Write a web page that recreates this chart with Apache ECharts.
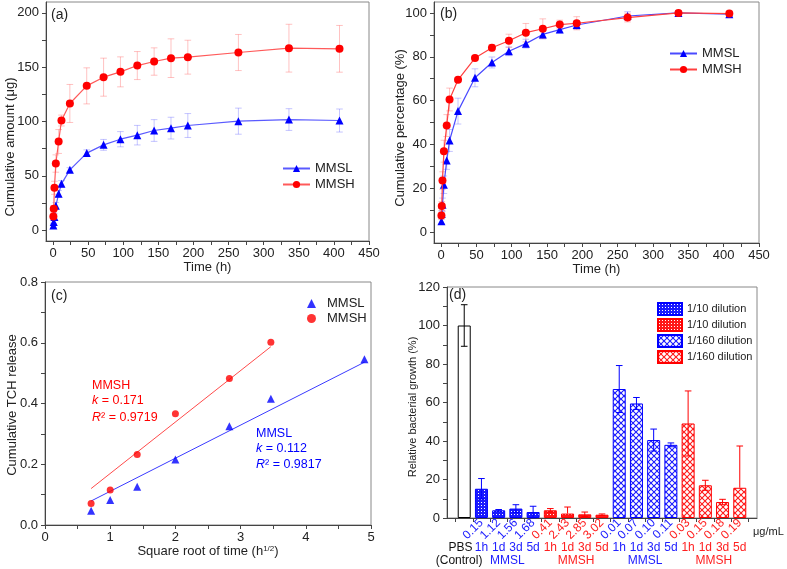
<!DOCTYPE html>
<html><head><meta charset="utf-8">
<script src="https://cdn.jsdelivr.net/npm/echarts@6.0.0/dist/echarts.min.js"></script>
<style>
html,body{margin:0;padding:0;background:#fff;width:787px;height:569px;overflow:hidden}
.c{position:absolute;left:0;top:0;width:787px;height:569px}
</style></head>
<body>
<div id="pa" class="c"></div><div id="pb" class="c"></div><div id="pc" class="c"></div><div id="pd" class="c"></div>
<script>
// ---------------- data ----------------
const times = [0.5, 1, 2, 4, 8, 12, 24, 48, 72, 96, 120, 144, 168, 192, 264, 336, 408];
const amountL = [4.3, 7.4, 12, 22.4, 33.4, 42.6, 55.5, 70.9, 78.5, 83.7, 87.4, 91.7, 93.9, 96.3, 100.3, 101.8, 100.9];
const amountLErr = [2, 2, 3, 3, 3, 3, 2, 3, 5, 7, 9, 10, 10, 11, 12, 10, 10.6];
const amountH = [12.6, 19.6, 39, 61.3, 81.6, 100.9, 116.6, 132.8, 140.8, 145.7, 151.5, 155.2, 158.3, 159.2, 163.5, 167.5, 166.9];
const amountHErr = [3, 3, 6, 8, 11, 5, 17.5, 16.6, 17.5, 13.8, 12.9, 12.6, 17.8, 15.6, 16.6, 22, 21.5];

const percentL = [4.9, 8.2, 12.5, 21.6, 32.6, 41.8, 55.2, 70.4, 77.4, 82.5, 86.0, 90.2, 92.4, 94.5, 98.6, 100, 99.4];
const percentLErr = [1, 1.5, 3, 4, 4, 5, 5.9, 4.1, 2.5, 2, 2, 2, 1.5, 2, 2, 1, 1];
const percentH = [7.5, 11.9, 23.5, 36.9, 48.6, 60.5, 69.5, 79.4, 84.1, 87.3, 91, 92.8, 94.7, 95.3, 97.9, 100, 99.7];
const percentHErr = [1.5, 2, 4, 5, 5, 5.2, 1, 1, 1.5, 3, 4.2, 4.5, 2, 3, 2, 1, 1];

const sqrtTimeL = [0.707, 1, 1.414, 2, 2.828, 3.464, 4.899];
const releaseL = [0.047, 0.082, 0.126, 0.216, 0.325, 0.416, 0.546];
const sqrtTimeH = [0.707, 1, 1.414, 2, 2.828, 3.464];
const releaseH = [0.071, 0.115, 0.232, 0.366, 0.482, 0.602];
const fitLX = [0.707, 4.9], fitLY = [0.079, 0.536];
const fitHX = [0.707, 3.464], fitHY = [0.12, 0.587];

const ctrlPos = [1], ctrlVal = [100], ctrlErr = [10.8];
const l10Pos = [2, 3, 4, 5], l10Val = [15.2, 4.0, 4.9, 3.1], l10Err = [5.3, 0.4, 2, 3];
const h10Pos = [6, 7, 8, 9], h10Val = [4.0, 2.3, 1.9, 1.7], h10Err = [0.9, 3.4, 1.2, 0.4];
const l160Pos = [10, 11, 12, 13], l160Val = [67, 59.5, 40.5, 38], l160Err = [12.2, 3.1, 5.7, 1];
const h160Pos = [14, 15, 16, 17], h160Val = [49.1, 17, 8.3, 15.7], h160Err = [16.9, 2.6, 1.4, 21.7];
const concLabels = ['0.15','1.12','1.56','1.68','0.41','2.43','2.85','3.02','0.01','0.07','0.10','0.11','0.03','0.15','0.18','0.19'];
const ctrlLabel = 'PBS', ctrlLabelPos = [0.78];
const timeLabels = ['1h','1d','3d','5d','1h','1d','3d','5d','1h','1d','3d','5d','1h','1d','3d','5d'];
const groupPos = [0.7, 3.5, 7.5, 11.5, 15.5];
const groupLabels = ['(Control)','MMSL','MMSH','MMSL','MMSH'];

// ticks
const xTicksAB = [0,25,50,75,100,125,150,175,200,225,250,275,300,325,350,375,400,425,450];
const xLabelsAB = [0,50,100,150,200,250,300,350,400,450];
const yTicksA = [0,25,50,75,100,125,150,175,200];
const yLabelsA = [0,50,100,150,200];
const yTicksB = [0,10,20,30,40,50,60,70,80,90,100];
const yLabelsB = [0,20,40,60,80,100];
const xTicksC = [0,0.5,1,1.5,2,2.5,3,3.5,4,4.5,5];
const xLabelsC = [0,1,2,3,4,5];
const yTicksC = [0,0.1,0.2,0.3,0.4,0.5,0.6,0.7,0.8];
const yLabelsC = [0,0.2,0.4,0.6,0.8];
const xTicksD = [0.5,1.5,2.5,3.5,4.5,5.5,6.5,7.5,8.5,9.5,10.5,11.5,12.5,13.5,14.5,15.5,16.5,17.5];
const yTicksD = [0,10,20,30,40,50,60,70,80,90,100,110,120];
const yLabelsD = [0,20,40,60,80,100,120];

// ---------------- style helpers ----------------
const FONT = '"Liberation Sans", Arial, sans-serif';
const BLUE = '#0000ff', RED = '#ff0000';
const TXT = '#222';

function axisStyle(ticks, labels, margin, fmt) {
  return {
    axisLine: { show: true, onZero: false, lineStyle: { color: '#444', width: 1 } },
    axisTick: { show: true, inside: false, length: 4, lineStyle: { color: '#444' }, customValues: ticks },
    axisLabel: { show: true, customValues: labels, margin: margin, fontSize: 13, fontFamily: FONT, color: TXT, formatter: fmt,
      showMinLabel: true, showMaxLabel: true },
    splitLine: { show: false }, minorTick: { show: false }
  };
}
function errBars(color, half, width, clipZero) {
  return function (params, api) {
    const x = api.value(0), y = api.value(1), e = api.value(2);
    const t = api.coord([x, y + e]);
    const hasLow = !clipZero || (y - e) >= 0;
    const b = api.coord([x, hasLow ? y - e : y]);
    const st = { stroke: color, lineWidth: width };
    const ch = [
      { type: 'line', shape: { x1: t[0], y1: t[1], x2: b[0], y2: b[1] }, style: st },
      { type: 'line', shape: { x1: t[0] - half, y1: t[1], x2: t[0] + half, y2: t[1] }, style: st }
    ];
    if (hasLow) ch.push({ type: 'line', shape: { x1: b[0] - half, y1: b[1], x2: b[0] + half, y2: b[1] }, style: st });
    return { type: 'group', children: ch };
  };
}
function zip3(xs, ys, es) { return xs.map((x, i) => [x, ys[i], es[i]]); }
function zip2(xs, ys) { return xs.map((x, i) => [x, ys[i]]); }
function vText(text, x, y, size) {
  return { type: 'text', x: x, y: y, rotation: Math.PI / 2,
    style: { text: text, font: size + 'px ' + FONT, fill: TXT, align: 'center', verticalAlign: 'middle' } };
}
function hText(text, x, y, size, color) {
  return { type: 'text', x: x, y: y,
    style: { text: text, font: size + 'px ' + FONT, fill: color || TXT, align: 'left', verticalAlign: 'middle' } };
}
function lineLegend(left, top) {
  return { show: true, orient: 'vertical', left: left, top: top, itemWidth: 27, itemHeight: 9, itemGap: 3,
    data: ['MMSL', 'MMSH'], textStyle: { fontSize: 13, fontFamily: FONT, color: TXT, lineHeight: 13 } };
}

// ---------------- panel (a) ----------------
const ca = echarts.init(document.getElementById('pa'), null, { renderer: 'canvas' });
ca.setOption({
  animation: false,
  grid: { left: 46, right: 418, top: 2, bottom: 328, show: true, borderColor: '#888', borderWidth: 1 },
  xAxis: Object.assign({ type: 'value', min: -10, max: 450, name: 'Time (h)', nameLocation: 'middle', nameGap: 19,
    nameTextStyle: { fontSize: 13, fontFamily: FONT, color: TXT } }, axisStyle(xTicksAB, xLabelsAB, 6)),
  yAxis: Object.assign({ type: 'value', min: -10, max: 210 }, axisStyle(yTicksA, yLabelsA, 7)),
  legend: lineLegend(277, 157),
  graphic: [vText('Cumulative amount (\u03bcg)', 10, 147, 13), hText('(a)', 51, 15, 14)],
  series: [
    { type: 'custom', renderItem: errBars('rgba(90,90,255,0.35)', 3.3, 1), data: zip3(times, amountL, amountLErr), z: 1, silent: true },
    { type: 'custom', renderItem: errBars('rgba(255,80,80,0.35)', 3.3, 1), data: zip3(times, amountH, amountHErr), z: 1, silent: true },
    { type: 'line', name: 'MMSL', data: zip2(times, amountL), symbol: 'triangle', symbolSize: 8, z: 3,
      itemStyle: { color: BLUE }, lineStyle: { color: '#5a5aff', width: 1.2 } },
    { type: 'line', name: 'MMSH', data: zip2(times, amountH), symbol: 'circle', symbolSize: 8, z: 4,
      itemStyle: { color: RED }, lineStyle: { color: '#ff5a5a', width: 1.2 } }
  ]
});

// ---------------- panel (b) ----------------
const cb = echarts.init(document.getElementById('pb'), null, { renderer: 'canvas' });
cb.setOption({
  animation: false,
  grid: { left: 434, right: 28, top: 2, bottom: 326, show: true, borderColor: '#888', borderWidth: 1 },
  xAxis: Object.assign({ type: 'value', min: -10, max: 450, name: 'Time (h)', nameLocation: 'middle', nameGap: 18,
    nameTextStyle: { fontSize: 13, fontFamily: FONT, color: TXT } }, axisStyle(xTicksAB, xLabelsAB, 6)),
  yAxis: Object.assign({ type: 'value', min: -5, max: 105 }, axisStyle(yTicksB, yLabelsB, 7)),
  legend: lineLegend(664, 42),
  graphic: [vText('Cumulative percentage (%)', 400, 128, 13), hText('(b)', 440, 14, 14)],
  series: [
    { type: 'custom', renderItem: errBars('rgba(90,90,255,0.35)', 3.3, 1), data: zip3(times, percentL, percentLErr), z: 1, silent: true },
    { type: 'custom', renderItem: errBars('rgba(255,80,80,0.35)', 3.3, 1), data: zip3(times, percentH, percentHErr), z: 1, silent: true },
    { type: 'line', name: 'MMSL', data: zip2(times, percentL), symbol: 'triangle', symbolSize: 8, z: 3,
      itemStyle: { color: BLUE }, lineStyle: { color: '#4a4aff', width: 1.2 } },
    { type: 'line', name: 'MMSH', data: zip2(times, percentH), symbol: 'circle', symbolSize: 8, z: 4,
      itemStyle: { color: RED }, lineStyle: { color: '#ff4040', width: 1.2 } }
  ]
});

// ---------------- panel (c) ----------------
const cc = echarts.init(document.getElementById('pc'), null, { renderer: 'canvas' });
const annSize = 12.5;
function richAnn(text, x, y, color) {
  return { type: 'text', x: x, y: y, style: { text: text, font: annSize + 'px ' + FONT, fill: color, align: 'left', verticalAlign: 'middle',
    rich: { i: { fontStyle: 'italic', fontSize: annSize, fontFamily: FONT, fill: color } } } };
}
cc.setOption({
  animation: false,
  grid: { left: 45, right: 416, top: 282, bottom: 44, show: true, borderColor: '#888', borderWidth: 1 },
  xAxis: Object.assign({ type: 'value', min: 0, max: 5, name: 'Square root of time (h{s|1/2})', nameLocation: 'middle', nameGap: 19,
    nameTextStyle: { fontSize: 13, fontFamily: FONT, color: TXT, rich: { s: { fontSize: 8, fontFamily: FONT, color: TXT, verticalAlign: 'top', padding: [0, 0, 6, 0] } } } },
    axisStyle(xTicksC, xLabelsC, 6)),
  yAxis: Object.assign({ type: 'value', min: 0, max: 0.8 }, axisStyle(yTicksC, yLabelsC, 7, v => v.toFixed(1))),
  legend: { show: true, orient: 'vertical', left: 302, top: 292, itemWidth: 9, itemHeight: 9, itemGap: 2,
    data: ['MMSL', 'MMSH'], textStyle: { fontSize: 13, fontFamily: FONT, color: TXT, lineHeight: 13, padding: [0, 0, 0, 6] } },
  graphic: [
    vText('Cumulative TCH release', 12, 405, 13), hText('(c)', 51, 296, 14),
    richAnn('MMSH', 92, 386, RED), richAnn('{i|k} = 0.171', 92, 401, RED), richAnn('{i|R}\u00b2 = 0.9719', 92, 418, RED),
    richAnn('MMSL', 256, 434, BLUE), richAnn('{i|k} = 0.112', 256, 449, BLUE), richAnn('{i|R}\u00b2 = 0.9817', 256, 465, BLUE)
  ],
  series: [
    { type: 'line', data: zip2(fitLX, fitLY), showSymbol: false, symbol: 'none', lineStyle: { color: '#3a3aff', width: 1 }, z: 1 },
    { type: 'line', data: zip2(fitHX, fitHY), showSymbol: false, symbol: 'none', lineStyle: { color: '#ff4a4a', width: 1 }, z: 1 },
    { type: 'scatter', name: 'MMSL', data: zip2(sqrtTimeL, releaseL), symbol: 'triangle', symbolSize: 8, itemStyle: { color: BLUE }, z: 3 },
    { type: 'scatter', name: 'MMSH', data: zip2(sqrtTimeH, releaseH), symbol: 'circle', symbolSize: 7, itemStyle: { color: RED }, z: 3 }
  ]
});

// ---------------- panel (d) ----------------
function densePattern(color) {
  const c = document.createElement('canvas'); c.width = 3; c.height = 3;
  const g = c.getContext('2d'); g.fillStyle = color; g.fillRect(0, 0, 3, 3);
  g.fillStyle = '#ffffff'; g.fillRect(1, 1, 1, 1); return c;
}
function crossPattern(color) {
  const s = 6; const c = document.createElement('canvas'); c.width = s; c.height = s;
  const g = c.getContext('2d'); g.fillStyle = '#fff'; g.fillRect(0, 0, s, s);
  g.strokeStyle = color; g.lineWidth = 1.1; g.beginPath();
  g.moveTo(0, 0); g.lineTo(s, s); g.moveTo(s, 0); g.lineTo(0, s); g.stroke(); return c;
}
const cd = echarts.init(document.getElementById('pd'), null, { renderer: 'canvas' });
const labAxisBase = { type: 'value', min: 0, max: 18, gridIndex: 0, position: 'bottom',
  axisLine: { show: false }, axisTick: { show: false }, splitLine: { show: false } };
const richD = {
  b: { color: '#2020ff', fontSize: 12, fontFamily: FONT },
  r: { color: '#ff2020', fontSize: 12, fontFamily: FONT },
  k: { color: '#111', fontSize: 12, fontFamily: FONT }
};
function groupTag(pos) {
  if (pos < 1.5) return 'k';
  const g = Math.floor((pos - 1.5) / 4);
  return (g % 2 === 0) ? 'b' : 'r';
}
function barSeries(name, pos, vals, fill, border) {
  return { type: 'bar', name: name, data: zip2(pos, vals), barWidth: 13, barGap: '-100%', z: 2,
    itemStyle: { color: fill, borderColor: border, borderWidth: 1 } };
}
const labCommon = { showMinLabel: true, showMaxLabel: true, hideOverlap: false };
const treatPos = l10Pos.concat(h10Pos, l160Pos, h160Pos);
cd.setOption({
  animation: false,
  grid: { left: 447, right: 30, top: 287, bottom: 51, show: true, borderColor: '#888', borderWidth: 1 },
  xAxis: [
    Object.assign({ type: 'value', min: 0, max: 18 }, axisStyle(xTicksD, [], 6), { axisLabel: { show: false } }),
    Object.assign({}, labAxisBase, { axisLabel: Object.assign({ show: true, customValues: treatPos, rotate: 45, margin: 3,
      formatter: v => '{' + groupTag(v) + '|' + concLabels[treatPos.indexOf(v)] + '}', rich: richD }, labCommon) }),
    Object.assign({}, labAxisBase, { axisLabel: Object.assign({ show: true, customValues: treatPos, margin: 24,
      formatter: v => '{' + groupTag(v) + '|' + timeLabels[treatPos.indexOf(v)] + '}', rich: richD }, labCommon) }),
    Object.assign({}, labAxisBase, { axisLabel: Object.assign({ show: true, customValues: ctrlLabelPos, margin: 24,
      formatter: v => '{k|' + ctrlLabel + '}', rich: richD }, labCommon) }),
    Object.assign({}, labAxisBase, { axisLabel: Object.assign({ show: true, customValues: groupPos, margin: 37,
      formatter: v => '{' + groupTag(v) + '|' + groupLabels[groupPos.indexOf(v)] + '}', rich: richD }, labCommon) })
  ],
  yAxis: Object.assign({ type: 'value', min: 0, max: 120 }, axisStyle(yTicksD, yLabelsD, 7)),
  legend: { show: true, orient: 'vertical', left: 652, top: 297, itemWidth: 24, itemHeight: 12, itemGap: 2, icon: 'rect',
    data: ['1/10 dilution#L', '1/10 dilution#H', '1/160 dilution#L', '1/160 dilution#H'],
    formatter: n => n.split('#')[0], textStyle: { fontSize: 11, fontFamily: FONT, color: TXT, lineHeight: 12 } },
  graphic: [vText('Relative bacterial growth (%)', 413, 407, 11), hText('(d)', 449, 295, 14),
    hText('\u03bcg/mL', 753, 532, 11)],
  series: [
    barSeries('PBS', ctrlPos, ctrlVal, '#ffffff', '#000'),
    barSeries('1/10 dilution#L', l10Pos, l10Val, { image: densePattern('#1a1aff'), repeat: 'repeat' }, BLUE),
    barSeries('1/10 dilution#H', h10Pos, h10Val, { image: densePattern('#ff1a1a'), repeat: 'repeat' }, RED),
    barSeries('1/160 dilution#L', l160Pos, l160Val, { image: crossPattern('#1a1aff'), repeat: 'repeat' }, BLUE),
    barSeries('1/160 dilution#H', h160Pos, h160Val, { image: crossPattern('#ff1a1a'), repeat: 'repeat' }, RED),
    { type: 'custom', renderItem: errBars('#000', 3.3, 1, true), data: zip3(ctrlPos, ctrlVal, ctrlErr), z: 5, silent: true },
    { type: 'custom', renderItem: errBars(BLUE, 3.3, 1, true), data: zip3(l10Pos, l10Val, l10Err), z: 5, silent: true },
    { type: 'custom', renderItem: errBars(RED, 3.3, 1, true), data: zip3(h10Pos, h10Val, h10Err), z: 5, silent: true },
    { type: 'custom', renderItem: errBars(BLUE, 3.3, 1, true), data: zip3(l160Pos, l160Val, l160Err), z: 5, silent: true },
    { type: 'custom', renderItem: errBars(RED, 3.3, 1, true), data: zip3(h160Pos, h160Val, h160Err), z: 5, silent: true }
  ]
});
</script>
</body></html>
